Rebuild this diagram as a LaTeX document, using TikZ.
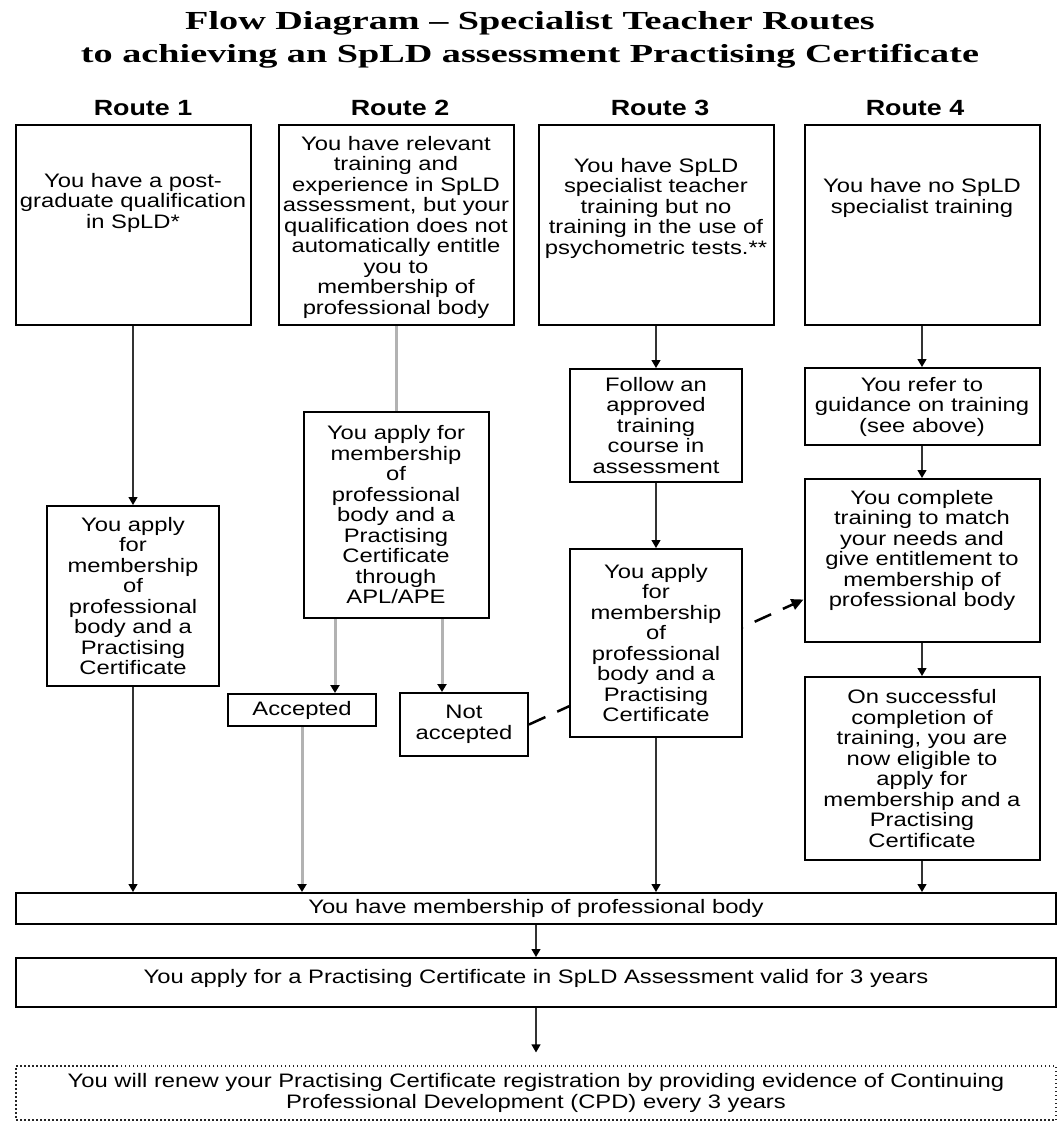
\documentclass[tikz,border=0pt]{standalone}
\usepackage{fontspec}
\newfontfamily\bodyfont[FakeStretch=1.22]{Liberation Sans}
\newfontfamily\titlefont[FakeStretch=1.47]{Liberation Serif}
\usetikzlibrary{arrows.meta, backgrounds}

\begin{document}
\begin{tikzpicture}[x=1pt, y=-1pt]
  \tikzset{box/.style = {shape=rectangle, draw, line width=2pt, fill=white, align=center, inner sep=2pt, font=\bodyfont\fontsize{19.5}{20.5}\selectfont}}
  \tikzset{topbox/.style = {box, minimum width=235pt, anchor=north}}
  \tikzset{edge/.style = {line width=1.2pt, black!80, -{Triangle[length=8pt, width=9pt, color=black]}}}
  \tikzset{greyedge/.style = {edge, line width=3pt, black!30}}
  \tikzset{dashedge/.style = {line width=2.5pt, dash pattern=on 18pt off 13pt, -{Triangle[length=12pt, width=11pt]}}}
  \tikzset{route/.style = {anchor=base, font=\bodyfont\bfseries\fontsize{22}{24}\selectfont}}

  \useasboundingbox (0,0) rectangle (1059,1122);

  \node[align=center, font=\titlefont\bfseries\fontsize{26}{33}\selectfont] (title) at (530,39.5)
    {Flow Diagram – Specialist Teacher Routes\\to achieving an SpLD assessment Practising Certificate};

  \node[route] (r1) at (143,115) {Route 1};
  \node[route] (r2) at (400,115) {Route 2};
  \node[route] (r3) at (660,115) {Route 3};
  \node[route] (r4) at (915,115) {Route 4};

  % top row (text height is measured down to the last line)
  \node[topbox, text height=101pt, text depth=95pt] (1a) at (133,124) {You have a post-\\graduate qualification\\in SpLD*};
  \node[topbox, text height=187pt, text depth=9pt] (2a) at (396,124) {You have relevant\\training and\\experience in SpLD\\assessment, but your\\qualification does not\\automatically entitle\\you to\\membership of\\professional body};
  \node[topbox, text height=127pt, text depth=69pt] (3a) at (656,124) {You have SpLD\\specialist teacher\\training but no\\training in the use of\\psychometric tests.**};
  \node[topbox, text height=86pt, text depth=110pt] (4a) at (922,124) {You have no SpLD\\specialist training};

  % route 1
  \node[box, minimum width=172pt, minimum height=180pt] (1b) at (133,596) {You apply\\for\\membership\\of\\professional\\body and a\\Practising\\Certificate};

  % route 2
  \node[box, minimum width=185pt, minimum height=206pt] (2b) at (396,515) {You apply for\\membership\\of\\professional\\body and a\\Practising\\Certificate\\through\\APL/APE};
  \node[box, minimum width=148pt, minimum height=32pt] (2c) at (302,710) {Accepted};
  \node[box, minimum width=128pt, minimum height=63pt] (2d) at (464,724.5) {Not\\accepted};

  % route 3
  \node[box, minimum width=172pt, minimum height=113pt] (3b) at (656,425.5) {Follow an\\approved\\training\\course in\\assessment};
  \node[box, minimum width=172pt, minimum height=188pt] (3c) at (656,643) {You apply\\for\\membership\\of\\professional\\body and a\\Practising\\Certificate};

  % route 4
  \node[box, minimum width=235pt, minimum height=77pt] (4b) at (922,406.5) {You refer to\\guidance on training\\(see above)};
  \node[box, minimum width=235pt, minimum height=163pt, text depth=24pt] (4c) at (922,560.5) {You complete\\training to match\\your needs and\\give entitlement to\\membership of\\professional body};
  \node[box, minimum width=235pt, minimum height=183pt] (4d) at (922,768.5) {On successful\\completion of\\training, you are\\now eligible to\\apply for\\membership and a\\Practising\\Certificate};

  % common steps
  \node[box, minimum width=1040pt, minimum height=31pt] (m) at (536,908.5) {You have membership of professional body};
  \node[box, minimum width=1040pt, minimum height=49pt, text depth=13pt] (pc) at (536,982.5) {You apply for a Practising Certificate in SpLD Assessment valid for 3 years};
  \node[box, draw=black!85, line width=1.2pt, dash pattern=on 1.5pt off 2.5pt, minimum width=1040pt, minimum height=54pt] (cpd) at (536,1093)
    {You will renew your Practising Certificate registration by providing evidence of Continuing\\Professional Development (CPD) every 3 years};

  \draw[edge] (1a) -- (1b);
  \draw[edge] (1b.south) -- (1b.south |- m.north);

  \draw[greyedge, -] (2a) -- (2b);
  \draw[greyedge] ([xshift=-61pt]2b.south) -- ([xshift=-61pt]2b.south |- 2c.north);
  \draw[greyedge] ([xshift=46pt]2b.south) -- ([xshift=46pt]2b.south |- 2d.north);
  \draw[greyedge] (2c.south) -- (2c.south |- m.north);

  \draw[edge] (3a) -- (3b);
  \draw[edge] (3b) -- (3c);
  \draw[edge] (3c.south) -- (3c.south |- m.north);

  \draw[edge] (4a) -- (4b);
  \draw[edge] (4b) -- (4c);
  \draw[edge] (4c) -- (4d);
  \draw[edge] (4d.south) -- (4d.south |- m.north);

  \draw[edge] (m) -- (pc);
  \draw[edge, shorten >=13pt] (pc) -- (cpd);

  \begin{scope}[on background layer]
    \draw[dashedge] (2d.east) -- ([yshift=-39pt]4c.west);
  \end{scope}
\end{tikzpicture}
\end{document}
